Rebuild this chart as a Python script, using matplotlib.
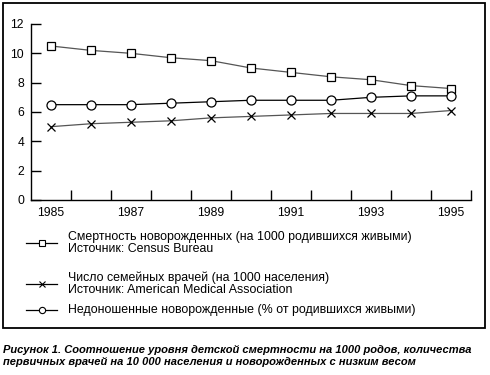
import numpy as np
import matplotlib.pyplot as plt
from matplotlib.lines import Line2D
from matplotlib.patches import Rectangle

plt.rcParams['font.family'] = ['Liberation Sans', 'DejaVu Sans']

years = np.arange(1985, 1996)
mortality = [10.5, 10.2, 10.0, 9.7, 9.5, 9.0, 8.7, 8.4, 8.2, 7.8, 7.6]
doctors = [5.0, 5.2, 5.3, 5.4, 5.6, 5.7, 5.8, 5.9, 5.9, 5.9, 6.1]
lowweight = [6.5, 6.5, 6.5, 6.6, 6.7, 6.8, 6.8, 6.8, 7.0, 7.1, 7.1]

xlabels = ['1985', '1987', '1989', '1991', '1993', '1995']
leg_labels = ['Смертность новорожденных (на 1000 родившихся живыми)\nИсточник: Census Bureau',
              'Число семейных врачей (на 1000 населения)\nИсточник: American Medical Association',
              'Недоношенные новорожденные (% от родившихся живыми)']
caption = ('Рисунок 1. Соотношение уровня детской смертности на 1000 родов, количества\n'
           'первичных врачей на 10 000 населения и новорожденных с низким весом')

W, H = 490, 375
fig = plt.figure(figsize=(4.9, 3.75), dpi=100)
ax = fig.add_axes([31/W, 1-200/H, 440/W, 176/H])

ax.plot(years, mortality, color='#555555', lw=0.9, marker='s', ms=6,
        mfc='white', mec='black', mew=0.9)
ax.plot(years, doctors, color='#555555', lw=0.9, marker='x', ms=6,
        mec='black', mew=0.9)
ax.plot(years, lowweight, color='black', lw=0.9, marker='o', ms=6.5,
        mfc='white', mec='black', mew=0.9)

ax.set_xlim(1984.5, 1995.5)
ax.set_ylim(0, 12)
ax.set_yticks(np.arange(0, 13, 2))
ax.set_xticks(np.arange(1985.5, 1996, 1))
ax.set_xticklabels([])
ax.set_xticks(np.arange(1985, 1996, 2), minor=True)
ax.set_xticklabels(xlabels, minor=True)
ax.tick_params(axis='x', which='major', direction='in', length=7, width=1)
ax.tick_params(axis='x', which='minor', length=0, pad=5, labelsize=8.7)
ax.tick_params(axis='y', direction='in', length=7, width=1, pad=5, labelsize=8.7)
for s in ['top', 'right']:
    ax.spines[s].set_visible(False)
for s in ['left', 'bottom']:
    ax.spines[s].set_linewidth(1)

# legend drawn by hand in pixel positions
styles = [dict(marker='s', ms=4.5, mfc='white'),
          dict(marker='x', ms=4.5),
          dict(marker='o', ms=4.5, mfc='white')]
handle_y = [243, 284, 310]
for st, yy, lab in zip(styles, handle_y, leg_labels):
    fig.add_artist(Line2D([26/W, 41.5/W, 57/W], [1-yy/H]*3, color='black', lw=0.9,
                          mec='black', mew=0.8, markevery=[1],
                          transform=fig.transFigure, **st))
    fig.text(68/W, 1-yy/H, lab, fontsize=8.9, va='center', ha='left', linespacing=1.05)

fig.add_artist(Rectangle((3/W, 1-328/H), 482/W, 325/H, fill=False, lw=1.3,
                         ec='black', transform=fig.transFigure))

fig.text(3/W, 1-356/H, caption, fontsize=8, fontweight='bold', fontstyle='italic',
         va='center', ha='left', linespacing=1.15)

fig.savefig('out.png', dpi=100)
